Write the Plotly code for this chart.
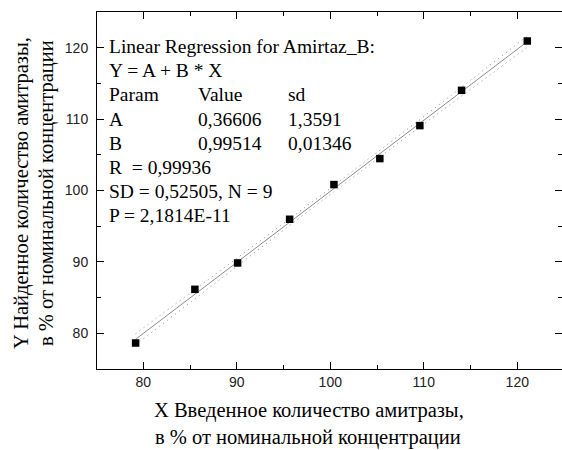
import numpy as np
import plotly.graph_objects as go

# Measured data: introduced vs. found amount of amitraz, % of nominal concentration
x_added = [79.18, 85.52, 90.09, 95.65, 100.39, 105.30, 109.58, 114.04, 121.07]
y_found = [78.64, 86.16, 89.85, 95.97, 100.83, 104.47, 109.09, 114.03, 120.94]

# Regression results
fit_A = 0.36606
fit_B = 0.99514
fit_SD = 0.52505
t_975_df7 = 2.3646

stats_rows = [
    ("Linear Regression for Amirtaz_B:", "", ""),
    ("Y = A + B * X", "", ""),
    ("Param", "Value", "sd"),
    ("A", "0,36606", "1,3591"),
    ("B", "0,99514", "0,01346"),
    ("R\u00a0 = 0,99936", "", ""),
    ("SD = 0,52505, N = 9", "", ""),
    ("P = 2,1814E-11", "", ""),
]

x_ticks = [80, 90, 100, 110, 120]
y_ticks = [80, 90, 100, 110, 120]

# layout geometry (pixels)
FIG_W, FIG_H = 562, 450
M_L, M_T, M_R, M_B = 97, 12, 0, 81
PW = FIG_W - M_L - M_R
PH = FIG_H - M_T - M_B


def px_x(px):
    return (px - M_L) / PW


def px_y(py):
    return (M_T + PH - py) / PH


xa = np.array(x_added)
n = len(xa)
x_line = np.linspace(xa.min(), xa.max(), 60)
y_line = fit_A + fit_B * x_line
sxx = np.sum((xa - xa.mean()) ** 2)
half = t_975_df7 * fit_SD * np.sqrt(1.0 / n + (x_line - xa.mean()) ** 2 / sxx)

serif = "Liberation Serif"
sans = "Liberation Sans"

fig = go.Figure()
for band in (y_line + half, y_line - half):
    fig.add_trace(go.Scatter(x=x_line, y=band, mode="lines",
                             line=dict(color="#8a8a8a", width=1, dash="1px,4px"),
                             hoverinfo="skip", showlegend=False))
fig.add_trace(go.Scatter(x=x_line, y=y_line, mode="lines",
                         line=dict(color="#8c8c8c", width=1),
                         hoverinfo="skip", showlegend=False))
fig.add_trace(go.Scatter(x=x_added, y=y_found, mode="markers",
                         marker=dict(symbol="square", size=7.5, color="black",
                                     line=dict(width=0)),
                         showlegend=False))

x0 = 75.05
y0 = 75.0
px_per_x = 9.35
px_per_y = 7.14

axis_common = dict(
    showgrid=False, zeroline=False, showline=True, linecolor="black",
    linewidth=1, mirror="ticks", ticks="inside", ticklen=7, tickwidth=1,
    tickcolor="black", tickfont=dict(family=sans, size=14, color="#222"),
    minor=dict(ticks="inside", ticklen=4, tickwidth=1, tickcolor="black", dtick=5),
)

fig.update_xaxes(range=[x0, x0 + PW / px_per_x], tickvals=x_ticks,
                 ticktext=[str(v) for v in x_ticks], **axis_common)
fig.update_yaxes(range=[y0, y0 + PH / px_per_y], tickvals=y_ticks,
                 ticktext=[str(v) for v in y_ticks], ticklabelstandoff=5,
                 **axis_common)

annotations = []
row_y0 = 47
row_step = 24
col_x = [107, 196, 286]
for i, row in enumerate(stats_rows):
    for j, txt in enumerate(row):
        if not txt:
            continue
        annotations.append(dict(
            x=px_x(col_x[j]), y=px_y(row_y0 + i * row_step), xref="paper", yref="paper",
            text=txt, showarrow=False, xanchor="left", yanchor="middle",
            font=dict(family=serif, size=19.5, color="black")))

# axis titles
title_font = dict(family=serif, size=20.5, color="black")
annotations.append(dict(x=px_x(309), y=px_y(410), xref="paper", yref="paper",
                        text="X Введенное количество амитразы,", showarrow=False,
                        xanchor="center", yanchor="middle", font=title_font))
annotations.append(dict(x=px_x(308), y=px_y(437), xref="paper", yref="paper",
                        text="в % от номинальной концентрации", showarrow=False,
                        xanchor="center", yanchor="middle", font=title_font))
annotations.append(dict(x=px_x(21), y=px_y(193), xref="paper", yref="paper",
                        text="Y Найденное количество амитразы,", showarrow=False,
                        textangle=-90, xanchor="center", yanchor="middle",
                        font=title_font))
annotations.append(dict(x=px_x(46), y=px_y(193), xref="paper", yref="paper",
                        text="в % от номинальной концентрации", showarrow=False,
                        textangle=-90, xanchor="center", yanchor="middle",
                        font=title_font))

fig.update_layout(
    width=FIG_W, height=FIG_H,
    margin=dict(l=M_L, r=M_R, t=M_T, b=M_B, pad=0),
    paper_bgcolor="white", plot_bgcolor="white",
    annotations=annotations,
)

fig.write_html("out.html")
